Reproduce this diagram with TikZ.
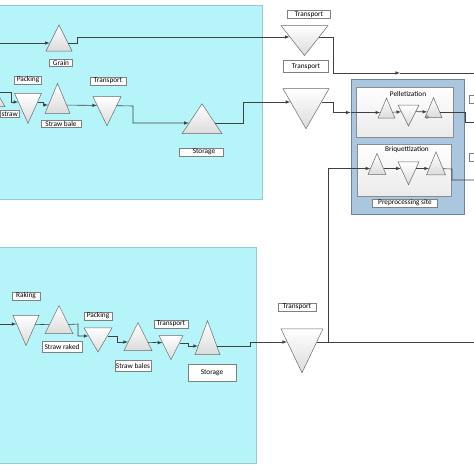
\documentclass[tikz,border=0pt]{standalone}
\usepackage{fontspec}
\setmainfont{Carlito}
\usetikzlibrary{arrows,calc,shapes.geometric}
\definecolor{PanelClr}{rgb}{0.71,0.96,0.98}
\definecolor{PanelLineClr}{rgb}{0.6,0.79,0.81}
\definecolor{SiteClr}{rgb}{0.67,0.78,0.88}
\definecolor{SiteLineClr}{rgb}{0.43,0.51,0.63}
\definecolor{TriLineClr}{rgb}{0.42,0.42,0.42}

\tikzset{
  tri/.style={isosceles triangle, isosceles triangle stretches, inner sep=0pt, draw=TriLineClr, line width=0.5pt, top color=white, bottom color=black!14},
  triup/.style 2 args={tri, shape border rotate=90, minimum width=#1, minimum height=#2},
  tridown/.style 2 args={tri, shape border rotate=270, minimum width=#1, minimum height=#2},
  tag/.style={draw=black!50, fill=white, inner sep=1pt, font=\fontsize{7.3}{8}\selectfont},
  title/.style={font=\fontsize{7.3}{8}\selectfont},
  flow/.style={-latex, line width=0.6pt, draw=black!75},
  link/.style={line width=0.6pt, draw=black!75},
  subbox/.style={draw=black!45, top color=white, bottom color=black!8, line width=0.6pt},
}

\begin{document}
\begin{tikzpicture}[x=1pt,y=-1pt]
\clip (0,0) rectangle (474,474);
\fill[white] (0,0) rectangle (474,474);

% field panels
\draw[PanelLineClr, fill=PanelClr, line width=0.8pt] (-5,5) rectangle (262,199);
\draw[PanelLineClr, fill=PanelClr, line width=0.8pt] (-5,247) rectangle (256,463);

% preprocessing site
\node[draw=SiteLineClr, fill=SiteClr, line width=0.8pt, minimum width=113pt, minimum height=135pt] (site) at (407.5,146.5) {};
\node[subbox, minimum width=97pt, minimum height=50pt] (pelbox) at (404.5,112) {};
\node[subbox, minimum width=94pt, minimum height=52pt] (brqbox) at (404,170) {};
\node[title] (peltitle) at (408,94) {Pelletization};
\node[title] (brqtitle) at (407,149.5) {Briquettization};
\node[tag, minimum width=65pt] (sitetag) at (405,203) {Preprocessing site};
\node[tag, minimum width=14pt, minimum height=8pt, anchor=west] (outtagA) at (469,99) {};
\node[tag, minimum width=14pt, minimum height=8pt, anchor=west] (outtagB) at (469,157.5) {};

\coordinate (inG) at (0,43);
\coordinate (inS) at (0,92);
\coordinate (inR) at (0,324);
\coordinate (outA) at (474,73);
\coordinate (outB) at (474,122);
\coordinate (outC) at (474,180);
\coordinate (outD) at (474,342);
\coordinate (junc) at (328,342);

% top field
\node[triup={16pt}{14pt}] (straw) at (-3,102) {};
\node[tag, anchor=east] (strawtag) at (19,114) {straw};
\node[triup={26pt}{26pt}] (grain) at (59,43) {};
\node[tag, minimum width=23pt] (graintag) at (61,63) {Grain};
\node[tridown={27pt}{30pt}] (packA) at (28,102) {};
\node[tag, minimum width=27pt] (packAtag) at (28,80) {Packing};
\node[triup={25pt}{30pt}] (bale) at (57.5,105) {};
\node[tag, minimum width=40pt] (baletag) at (61,124) {Straw bale};
\node[tridown={28pt}{29pt}] (transA) at (107,105.5) {};
\node[tag, minimum width=36pt] (transAtag) at (108,81) {Transport};
\node[triup={40pt}{30pt}] (storeA) at (202,123) {};
\node[tag, minimum width=44pt] (storeAtag) at (201,152) {\hspace{6pt}Storage};
\node[tridown={47pt}{30pt}] (transB) at (304.5,37) {};
\node[tag, minimum width=43pt] (transBtag) at (309,14.5) {Transport};
\node[tridown={46pt}{40pt}] (transC) at (306,102) {};
\node[tag, minimum width=45pt, minimum height=12pt] (transCtag) at (306,66.5) {Transport};

% pelletization and briquettization
\node[triup={17pt}{20pt}] (pelA) at (386.5,112.5) {};
\node[tridown={21pt}{21pt}] (pelB) at (408.5,111.5) {};
\node[triup={17pt}{20pt}] (pelC) at (433.5,112) {};
\draw[TriLineClr, line width=0.5pt] (427,117) circle (1.5pt);
\node[triup={18pt}{21pt}] (brqA) at (377,168.5) {};
\node[tridown={21pt}{23pt}] (brqB) at (408.5,168.5) {};
\node[triup={19pt}{23pt}] (brqC) at (436,168.5) {};

% bottom field
\node[tridown={26pt}{30pt}] (rake) at (26,324) {};
\node[tag, minimum width=28pt] (raketag) at (26,296) {Raking};
\node[triup={28pt}{28pt}] (raked) at (59,325) {};
\node[tag, minimum width=40pt, minimum height=11pt] (rakedtag) at (62,347) {Straw raked};
\node[tridown={28pt}{24pt}] (packB) at (98,336) {};
\node[tag, minimum width=28pt] (packBtag) at (98,316) {Packing};
\node[triup={28pt}{28pt}] (bales) at (138,342) {};
\node[tag, minimum width=30pt, minimum height=11pt] (balestag) at (133,366) {Straw bales};
\node[tridown={24pt}{24pt}] (transD) at (171,343) {};
\node[tag, minimum width=34pt] (transDtag) at (171,324) {Transport};
\node[triup={25pt}{34pt}] (storeB) at (207.5,346) {};
\node[tag, minimum width=48pt, minimum height=17pt] (storeBtag) at (212,372.5) {Storage};
\node[tridown={42pt}{44pt}] (transE) at (302,342) {};
\node[tag, minimum width=38pt] (transEtag) at (297,307) {Transport};

% connectors
\draw[flow] (inG) -- (grain);
\draw[flow] (grain) -- (77,43) |- (transB);
\draw[flow] (transB) -- (333,37) |- (400,73);
\draw[link] (400,73) -- (outA);
\draw[flow] (inS) -- (11,92) |- (packA);
\draw[flow] (packA) -- (43,102) |- (bale);
\draw[flow] (bale) -- (transA);
\draw[flow] (transA) -- (133,106) |- (storeA);
\draw[flow] (storeA) -- (243,123) |- (transC);
\draw[flow] (transC) -- (333,102) |- (site.west |- pelA);
\draw[flow] (site.west |- pelA) -- (pelA);
\draw[flow] (pelA) -- (pelB);
\draw[flow] (pelB) -- (pelC);
\draw[link] (pelC) -- (465,112) |- (outB);
\draw[flow] (brqA) -- (brqB);
\draw[flow] (brqB) -- (brqC);
\draw[link] (brqC) -- (452,169) |- (outC);
\draw[flow] (inR) -- (rake);
\draw[link] (rake) -- (raked);
\draw[flow] (raked) -- (78,324) |- (packB);
\draw[flow] (packB) -- (117,336) |- (bales);
\draw[flow] (bales) -- (transD);
\draw[flow] (transD) -- (188,343) |- (storeB);
\draw[flow] (storeB) -- (250,346) |- (transE);
\draw[link] (transE) -- (outD);
\draw[flow] (junc) |- (brqA);

\end{tikzpicture}
\end{document}
